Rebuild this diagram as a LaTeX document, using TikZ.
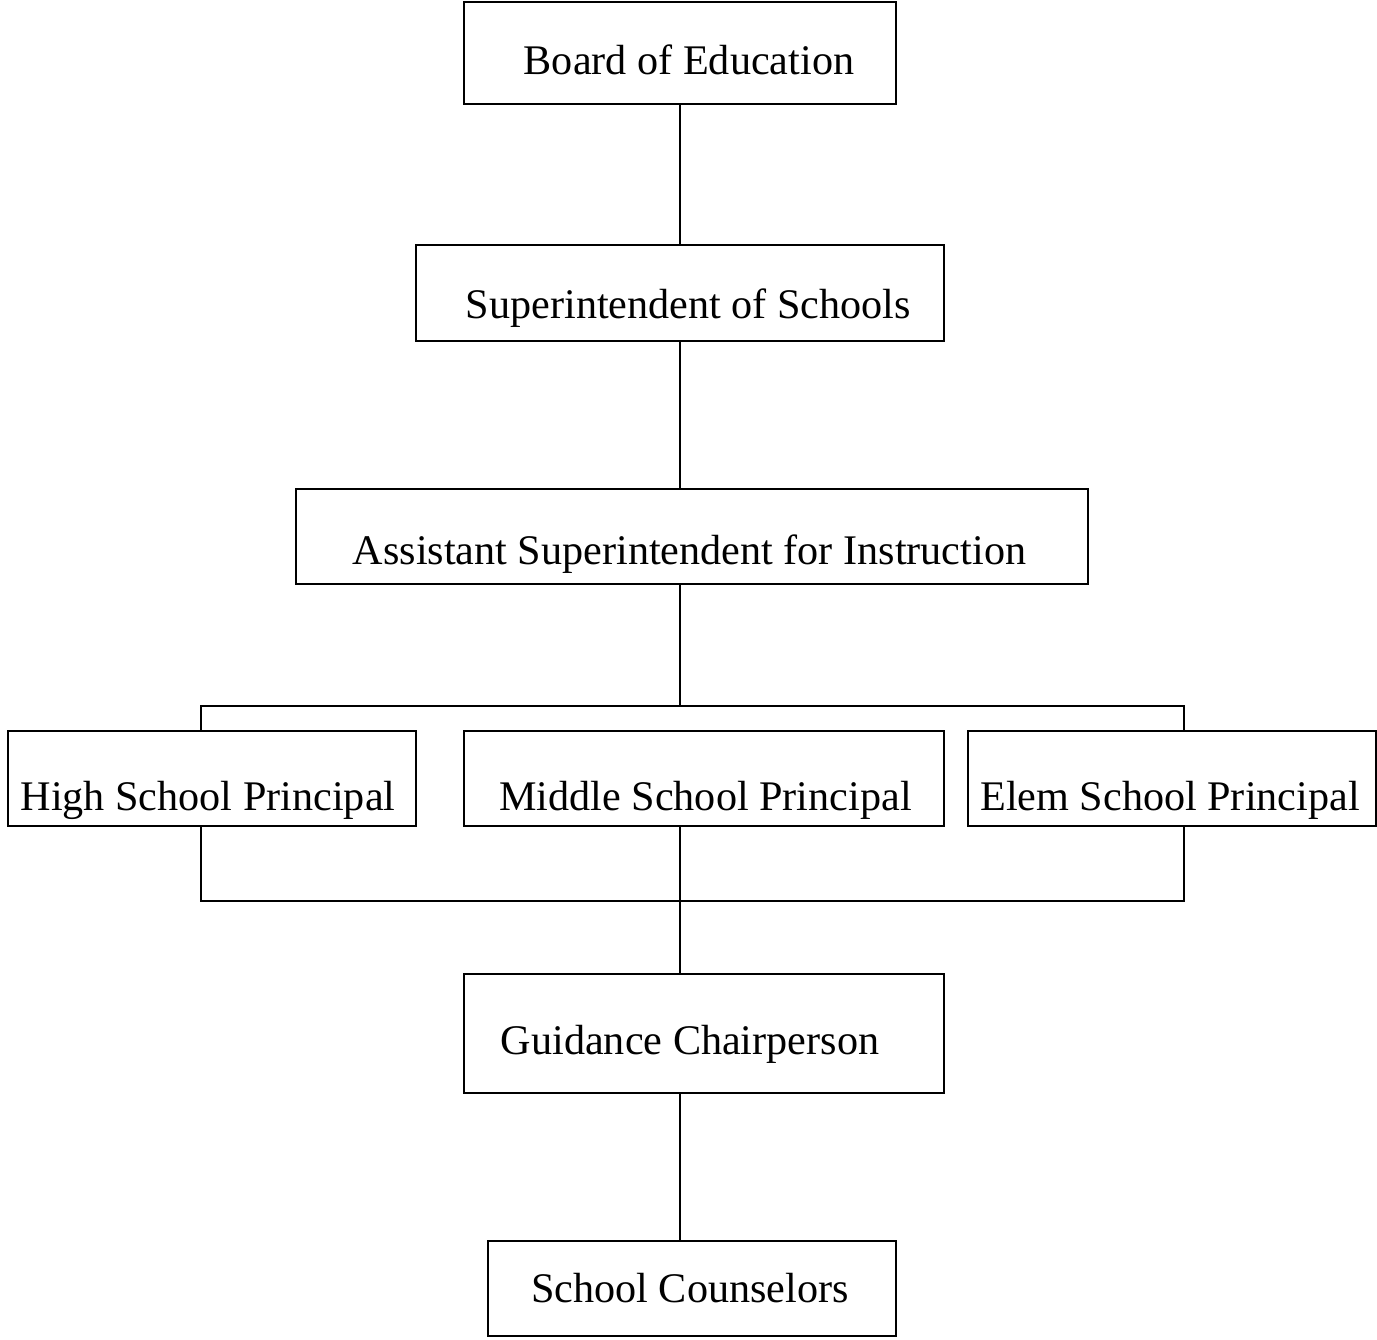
\documentclass[tikz,border=0pt]{standalone}
\usepackage{fontspec}
\setmainfont{Liberation Serif}
\usetikzlibrary{positioning}

\begin{document}
\begin{tikzpicture}[
    box/.style={rectangle,draw,line width=0.8pt,minimum height=1.9cm,inner sep=0pt},
    txt/.style={font=\fontsize{24}{28}\selectfont,inner sep=0pt},
    link/.style={line width=0.8pt}
]
    \useasboundingbox (0,0) rectangle (27.54,26.78);
    % Offices
    \node[box,minimum width=8.64cm,minimum height=2.04cm,
          label={[txt,xshift=0.18cm,yshift=-0.14cm]center:Board of Education}] (board) at (13.6,25.72) {};
    \node[box,minimum width=10.56cm,minimum height=1.92cm,
          label={[txt,xshift=0.17cm,yshift=-0.30cm]center:Superintendent of Schools}] (super) at (13.6,20.92) {};
    \node[box,minimum width=15.84cm,
          label={[txt,xshift=-0.05cm,yshift=-0.36cm]center:Assistant Superintendent for Instruction}] (asst) at (13.84,16.05) {};
    \node[box,minimum width=8.16cm,
          label={[txt,xshift=-0.08cm,yshift=-0.44cm]center:High School Principal}] (hs) at (4.24,11.21) {};
    \node[box,minimum width=9.6cm,
          label={[txt,xshift=0.03cm,yshift=-0.44cm]center:Middle School Principal}] (ms) at (14.08,11.21) {};
    \node[box,minimum width=8.16cm,
          label={[txt,xshift=-0.04cm,yshift=-0.44cm]center:Elem School Principal}] (es) at (23.44,11.21) {};
    \node[box,minimum width=9.6cm,minimum height=2.38cm,
          label={[txt,xshift=-0.28cm,yshift=-0.22cm]center:Guidance Chairperson}] (guid) at (14.08,6.11) {};
    \node[box,minimum width=8.16cm,
          label={[txt,xshift=-0.04cm]center:School Counselors}] (couns) at (13.84,1.01) {};

    % Bars
    \coordinate (barL) at (4.02,12.66);
    \coordinate (barR) at (23.68,12.66);
    \coordinate (lowL) at (4.02,8.76);
    \coordinate (lowR) at (23.68,8.76);

    % Lines
    \draw[link] (board.south) -- (super.north);
    \draw[link] (super.south) -- (super.south |- asst.north);
    \draw[link] (super |- asst.south) -- (super |- barL);
    \draw[link] (barL |- hs.north) -- (barL) -- (barR) -- (barR |- es.north);
    \draw[link] (lowL |- hs.south) -- (lowL) -- (lowR) -- (lowR |- es.south);
    \draw[link] (super |- ms.south) -- (super |- guid.north);
    \draw[link] (super |- guid.south) -- (super |- couns.north);
\end{tikzpicture}
\end{document}
